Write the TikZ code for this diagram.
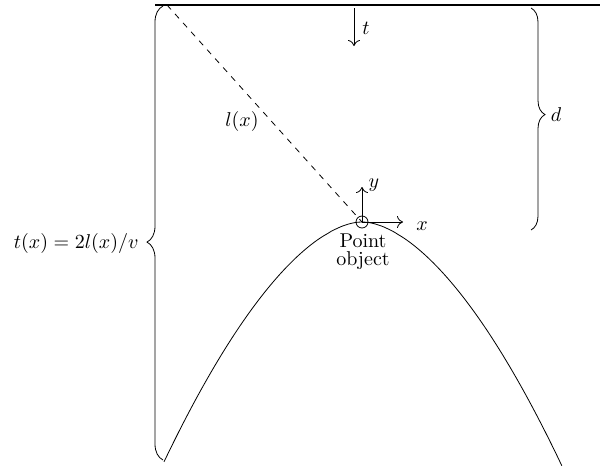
\documentclass[tikz,border=0pt]{standalone}
\usepackage{amsmath}
\usetikzlibrary{arrows.meta,decorations.pathreplacing,calc}

\begin{document}
\begin{tikzpicture}[x=0.5pt,y=-0.5pt,
  lbl/.style={inner sep=1pt},
  axis/.style={-{To[length=3pt,width=6pt]}},
  brc/.style 2 args={decorate,decoration={brace,amplitude=#1,aspect=#2}}]
\useasboundingbox (0,0) rectangle (600,467);
% surface and the object
\coordinate (sl) at (155,5);
\coordinate (sr) at (600,5);
\coordinate (src) at (167,5);
\coordinate (obj) at (362,222);
\draw[line width=0.7pt] (sl) -- (sr);
\node[circle,draw,minimum size=6pt,inner sep=0pt] (pt) at (obj) {};
\draw[dashed] (src) -- (obj);
\node[lbl] (lx) at (242,121) {$l(x)$};
% axes at the object
\coordinate (xend) at (403,222);
\coordinate (yend) at (362,187);
\draw[axis] (obj) -- (xend);
\draw[axis] (obj) -- (yend);
\node[lbl] (xlab) at (422,226) {$x$};
\node[lbl] (ylab) at (374,185) {$y$};
\node[lbl,align=center] (ptlab) at (363,252) {Point\\[-3pt]object};
% scan direction
\coordinate (ttop) at (354,8);
\coordinate (tend) at (354,46);
\draw[axis] (ttop) -- (tend);
\node[lbl] (tlab) at (366,28) {$t$};
% braces
\coordinate (lb) at (163,460);
\coordinate (lt) at (163,6);
\draw[brc={8pt}{0.48}] (lb) -- (lt);
\node[lbl,anchor=east] (tx) at (141,243) {$t(x) = 2l(x)/v$};
\coordinate (rt) at (531,8);
\coordinate (rb) at (531,230);
\draw[brc={7pt}{0.48}] (rt) -- (rb);
\node[lbl] (dlab) at (556,115) {$d$};
% travel time curve
\draw plot[domain=-1.98:2.0,samples=120,smooth]
  ({362+100*\x},{222+74.37*(pow(\x*\x+0.01,0.86)-0.01906)});
\end{tikzpicture}
\end{document}
